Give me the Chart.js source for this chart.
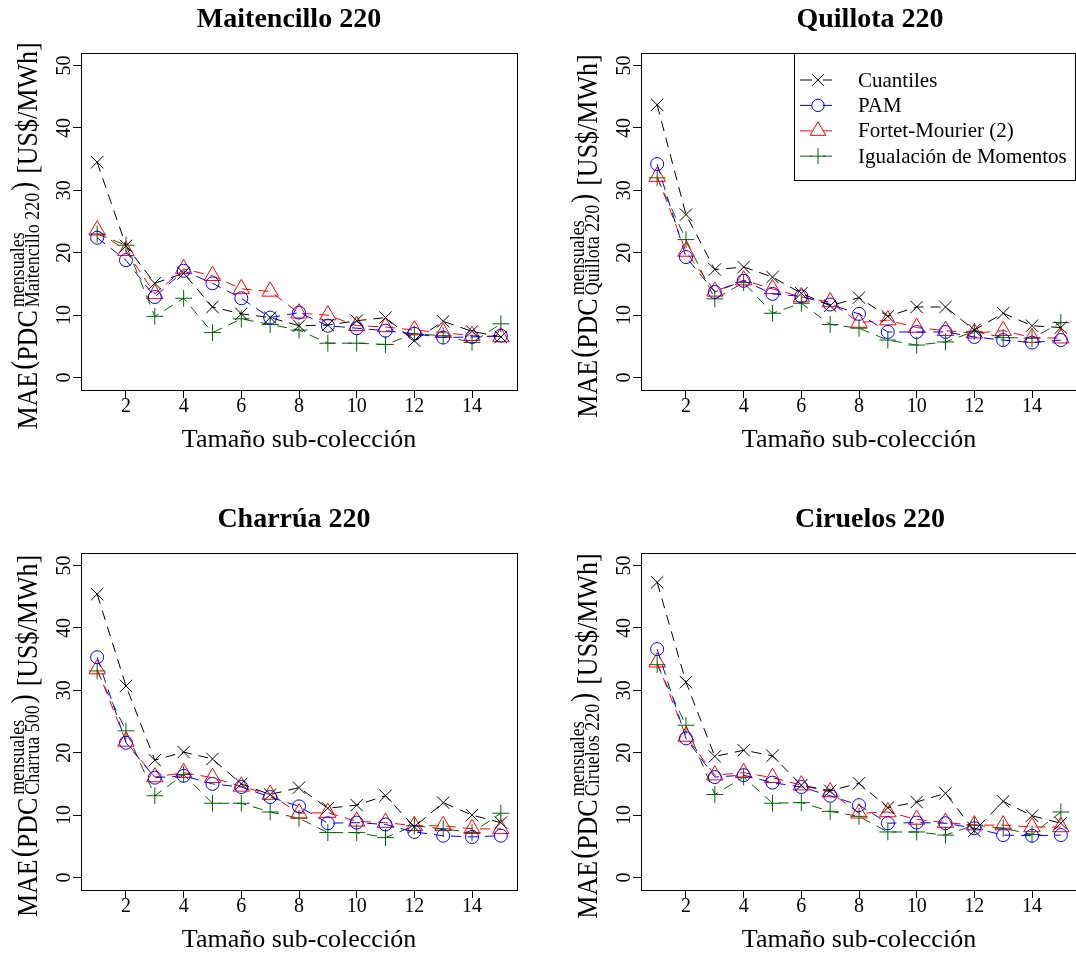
<!DOCTYPE html>
<html>
<head>
<meta charset="utf-8">
<script src="https://cdn.jsdelivr.net/npm/chart.js"></script>
<style>
  html, body { margin: 0; padding: 0; background: #fff; }
  body { width: 1076px; height: 953px; overflow: hidden; position: relative; }
  .panel { position: absolute; width: 560px; height: 500px; }
</style>
</head>
<body>
<div class="panel" style="left:0;top:0"><canvas id="c0" width="560" height="500"></canvas></div>
<div class="panel" style="left:560px;top:0"><canvas id="c1" width="560" height="500"></canvas></div>
<div class="panel" style="left:0;top:500px"><canvas id="c2" width="560" height="500"></canvas></div>
<div class="panel" style="left:560px;top:500px"><canvas id="c3" width="560" height="500"></canvas></div>
<script>
// sub-collection size (x axis)
var sizes = [1, 2, 3, 4, 5, 6, 7, 8, 9, 10, 11, 12, 13, 14, 15];
var xTicks = [2, 4, 6, 8, 10, 12, 14];
var yTicks = [0, 10, 20, 30, 40, 50];
var seriesNames = ['Cuantiles', 'PAM', 'Fortet-Mourier (2)', 'Igualación de Momentos'];

// Maitencillo 220
var maitCuantiles = [34.5, 21.1, 15.1, 16.7, 11.3, 10.2, 9.6, 8.3, 8.4, 9.1, 9.6, 5.9, 9.0, 7.4, 6.5];
var maitPam       = [22.4, 18.8, 12.9, 17.1, 15.1, 12.7, 9.6, 10.4, 8.3, 7.9, 7.5, 7.0, 6.4, 6.5, 6.7];
var maitFortet    = [23.6, 20.3, 13.4, 17.4, 16.3, 14.2, 13.8, 10.3, 10.0, 8.3, 8.1, 7.6, 7.2, 6.7, 6.5];
var maitMomentos  = [23.0, 21.2, 9.8, 12.7, 7.2, 9.4, 8.5, 7.6, 5.5, 5.5, 5.3, 7.0, 6.7, 5.6, 8.6];

// Quillota 220
var quilCuantiles = [43.7, 26.1, 17.3, 17.7, 16.1, 13.5, 11.5, 12.8, 9.8, 11.3, 11.3, 7.6, 10.3, 8.3, 8.0];
var quilPam       = [34.2, 19.3, 13.7, 15.5, 13.4, 13.0, 11.7, 10.2, 7.3, 7.3, 7.3, 6.5, 6.0, 5.6, 6.0];
var quilFortet    = [32.2, 20.2, 13.8, 15.6, 14.2, 12.9, 12.1, 8.8, 9.2, 8.0, 7.5, 7.1, 7.5, 6.4, 6.3];
var quilMomentos  = [32.0, 22.1, 12.6, 15.2, 10.3, 11.9, 8.5, 7.9, 6.0, 5.2, 5.7, 7.4, 6.4, 6.3, 8.8];

// Charrúa 220
var charCuantiles = [45.4, 30.7, 18.8, 20.1, 19.0, 15.0, 13.3, 14.4, 11.1, 11.6, 13.1, 8.1, 12.0, 10.0, 8.8];
var charPam       = [35.3, 21.6, 16.0, 16.3, 15.0, 14.5, 12.9, 11.4, 8.7, 8.8, 8.5, 7.3, 6.7, 6.5, 6.7];
var charFortet    = [33.4, 21.8, 16.1, 16.8, 16.0, 14.6, 13.3, 10.3, 10.4, 9.0, 8.8, 8.3, 8.3, 7.8, 7.8];
var charMomentos  = [33.1, 23.5, 13.1, 16.5, 11.9, 11.9, 10.5, 9.5, 7.2, 7.2, 6.4, 8.3, 7.8, 7.2, 10.3];

// Ciruelos 220
var ciruCuantiles = [47.3, 31.3, 19.4, 20.4, 19.5, 14.8, 13.9, 15.1, 11.2, 12.1, 13.5, 7.5, 12.2, 9.9, 8.7];
var ciruPam       = [36.6, 22.3, 16.1, 16.4, 15.2, 14.5, 13.1, 11.6, 8.7, 8.8, 8.7, 7.9, 6.8, 6.7, 6.8];
var ciruFortet    = [34.5, 22.6, 16.4, 16.8, 16.0, 14.8, 13.7, 10.3, 10.5, 9.3, 8.8, 8.4, 8.4, 8.1, 8.1];
var ciruMomentos  = [34.1, 24.4, 13.3, 16.1, 11.9, 12.0, 10.6, 9.8, 7.3, 7.3, 6.8, 8.4, 7.9, 6.9, 10.5];

var serif = '"Liberation Serif", "DejaVu Serif", serif';

var styles = [
    { color: '#000000', point: 'crossRot', radius: 8.7 },
    { color: '#0000FF', point: 'circle',   radius: 6.5 },
    { color: '#FF0000', point: 'triangle', radius: 9.5 },
    { color: '#006400', point: 'cross',    radius: 8.4 }
];

var panels = [
    { id: 'c0', title: 'Maitencillo 220', sub: 'Maitencillo 220', titleX: 289, legend: false,
      series: [maitCuantiles, maitPam, maitFortet, maitMomentos] },
    { id: 'c1', title: 'Quillota 220', sub: 'Quillota 220', titleX: 310, legend: true,
      series: [quilCuantiles, quilPam, quilFortet, quilMomentos] },
    { id: 'c2', title: 'Charrúa 220', sub: 'Charrua 500', titleX: 294, legend: false,
      series: [charCuantiles, charPam, charFortet, charMomentos] },
    { id: 'c3', title: 'Ciruelos 220', sub: 'Ciruelos 220', titleX: 310, legend: false,
      series: [ciruCuantiles, ciruPam, ciruFortet, ciruMomentos] }
];

function drawYTitle(ctx, subText, centerY)
{
    var big = '26px ' + serif, paren = '27px ' + serif, small = '18px ' + serif;
    ctx.font = big;
    var wMae = ctx.measureText('MAE').width;
    var wPdc = ctx.measureText('PDC').width;
    var wUnit = ctx.measureText('[US$/MWh]').width;
    ctx.font = paren;
    var wOpen = ctx.measureText('(').width;
    var wClose = ctx.measureText(')').width;
    ctx.font = small;
    var wScript = Math.max(ctx.measureText('mensuales').width, ctx.measureText(subText).width);
    var total = wMae + 2 + wOpen + wPdc + 3 + wScript + 2 + wClose + 8 + wUnit;

    ctx.save();
    ctx.translate(37, centerY + total / 2);
    ctx.rotate(-Math.PI / 2);
    ctx.scale(1, 1.15);
    ctx.fillStyle = '#000';
    ctx.textAlign = 'left';
    ctx.textBaseline = 'alphabetic';
    var x = 0;
    ctx.font = big;   ctx.fillText('MAE', x, 0); x += wMae + 2;
    ctx.font = paren; ctx.fillText('(', x, -3.3); x += wOpen;
    ctx.font = big;   ctx.fillText('PDC', x, 0); x += wPdc + 3;
    ctx.font = small; ctx.fillText('mensuales', x, -11.2); ctx.fillText(subText, x, 2); x += wScript + 2;
    ctx.font = paren; ctx.fillText(')', x, -3.3); x += wClose + 8;
    ctx.font = big;   ctx.fillText('[US$/MWh]', x, 0);
    ctx.restore();
}

function drawLegend(chart)
{
    var ctx = chart.ctx;
    var top = Math.round(chart.chartArea.top) + 0.5;
    ctx.save();
    ctx.fillStyle = '#fff';
    ctx.strokeStyle = '#000';
    ctx.lineWidth = 1;
    ctx.fillRect(234.5, top, 281, 127);
    ctx.strokeRect(234.5, top, 281, 127);
    ctx.font = '21px ' + serif;
    ctx.textBaseline = 'middle';
    ctx.textAlign = 'left';
    for (var i = 0; i < seriesNames.length; i++) {
        var y = 80 + i * 25.4;
        var ds = chart.data.datasets[i];
        ctx.strokeStyle = ds.borderColor;
        ctx.setLineDash([12, 11]);
        ctx.beginPath();
        ctx.moveTo(240, y);
        ctx.lineTo(272, y);
        ctx.stroke();
        ctx.setLineDash([]);
        ctx.fillStyle = 'rgba(0,0,0,0)';
        Chart.helpers.drawPoint(ctx, {
            pointStyle: ds.pointStyle, radius: ds.pointRadius * 0.95,
            borderWidth: 1, rotation: 0
        }, 258, y);
        ctx.fillStyle = '#000';
        ctx.fillText(seriesNames[i], 298, y + 1);
    }
    ctx.restore();
}

var decor = {
    id: 'decor',
    afterDraw: function (chart) {
        var ctx = chart.ctx;
        var area = chart.chartArea;
        var p = chart.config.options.panel;
        var yScale = chart.scales.y;

        ctx.save();
        // frame
        ctx.strokeStyle = '#000';
        ctx.lineWidth = 1;
        ctx.strokeRect(Math.round(area.left) + 0.5, Math.round(area.top) + 0.5,
            Math.round(area.right - area.left), Math.round(area.bottom - area.top));

        // y tick labels, parallel to the axis
        ctx.fillStyle = '#000';
        ctx.font = '20px ' + serif;
        ctx.textAlign = 'center';
        ctx.textBaseline = 'alphabetic';
        for (var i = 0; i < yTicks.length; i++) {
            var py = yScale.getPixelForValue(yTicks[i]);
            ctx.save();
            ctx.translate(area.left - 11, py);
            ctx.rotate(-Math.PI / 2);
            ctx.fillText(String(yTicks[i]), 0, 0);
            ctx.restore();
        }

        // title
        ctx.font = 'bold 28px ' + serif;
        ctx.fillText(p.title, p.titleX, 27);

        // x axis title
        ctx.font = '26px ' + serif;
        ctx.fillText('Tamaño sub-colección', (area.left + area.right) / 2, area.bottom + 57);
        ctx.restore();

        drawYTitle(ctx, p.sub, 236);

        if (p.legend) {
            drawLegend(chart);
        }
    }
};

function makeDatasets(series)
{
    var out = [];
    for (var s = 0; s < series.length; s++) {
        var pts = [];
        for (var i = 0; i < sizes.length; i++) {
            pts.push({ x: sizes[i], y: series[s][i] });
        }
        out.push({
            label: seriesNames[s],
            data: pts,
            borderColor: styles[s].color,
            backgroundColor: 'rgba(0,0,0,0)',
            borderWidth: 1,
            borderDash: [10, 7],
            tension: 0,
            fill: false,
            pointStyle: styles[s].point,
            pointRadius: styles[s].radius,
            pointBorderWidth: 1,
            pointBorderColor: styles[s].color,
            pointBackgroundColor: 'rgba(0,0,0,0)'
        });
    }
    return out;
}

function showPanel(p)
{
    var ctx = document.getElementById(p.id).getContext('2d');
    new Chart(ctx, {
        type: 'line',
        data: { datasets: makeDatasets(p.series) },
        options: {
            panel: p,
            responsive: false,
            animation: false,
            events: [],
            devicePixelRatio: 1,
            layout: { padding: { top: 53, right: 43, left: 0, bottom: 0 } },
            plugins: { legend: { display: false }, tooltip: { enabled: false }, title: { display: false } },
            scales: {
                x: {
                    type: 'linear', min: 0.44, max: 15.56,
                    afterBuildTicks: function (scale) {
                        scale.ticks = xTicks.map(function (v) { return { value: v }; });
                    },
                    afterFit: function (scale) { scale.height = 110; },
                    grid: { display: true, drawOnChartArea: false, drawTicks: true, tickLength: 8, color: '#000', lineWidth: 1 },
                    border: { display: true, color: '#000', width: 1 },
                    ticks: { color: '#000', font: { family: serif, size: 20, lineHeight: 1 }, padding: -1, maxRotation: 0, minRotation: 0, autoSkip: false }
                },
                y: {
                    type: 'linear', min: -2, max: 52,
                    afterBuildTicks: function (scale) {
                        scale.ticks = yTicks.map(function (v) { return { value: v }; });
                    },
                    afterFit: function (scale) { scale.width = 81; },
                    grid: { display: true, drawOnChartArea: false, drawTicks: true, tickLength: 8, color: '#000', lineWidth: 1 },
                    border: { display: true, color: '#000', width: 1 },
                    ticks: { display: false }
                }
            }
        },
        plugins: [decor]
    });
}

for (var k = 0; k < panels.length; k++) {
    showPanel(panels[k]);
}
</script>
</body>
</html>
